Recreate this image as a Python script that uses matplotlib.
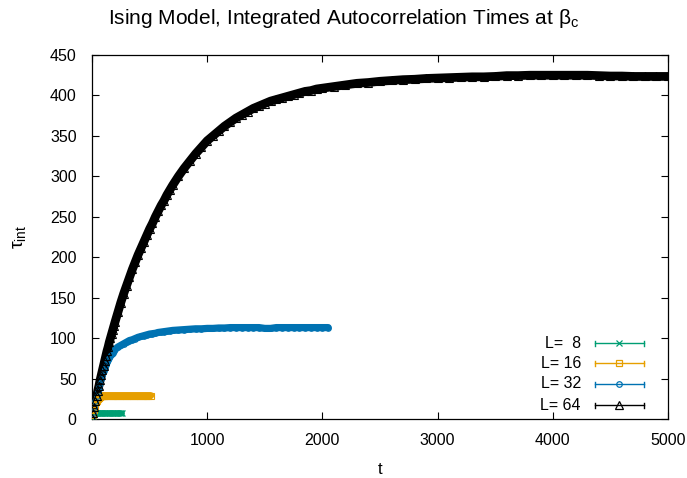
import numpy as np
import matplotlib
matplotlib.use("Agg")
import matplotlib.pyplot as plt
from matplotlib.lines import Line2D

plt.rcParams["font.family"] = ["Liberation Sans", "DejaVu Sans"]
plt.rcParams["mathtext.fontset"] = "custom"
plt.rcParams["mathtext.rm"] = "Liberation Sans"
plt.rcParams["mathtext.it"] = "Liberation Sans"

# ---- data: integrated autocorrelation time vs. cutoff t ----
t8 = np.concatenate([np.arange(0, 51, 5), np.arange(60, 261, 10)])
tau8 = [1, 4, 5.5, 6.5, 7, 7, 7, 7, 7, 7, 7,
        7, 7, 7, 7, 7, 7, 7, 7, 7, 7, 7, 7, 7, 7, 7, 7, 7, 7, 7, 7, 7]

t16 = np.concatenate([np.arange(0, 101, 5), np.arange(110, 511, 20)])
tau16 = [1, 4.5, 8, 11, 14, 16.5, 19, 21, 22.5, 24, 25, 26, 26.5, 27, 27.5,
         28, 28, 28.5, 28.5, 29, 29,
         29, 29, 29, 29, 29, 29, 29, 29, 29, 29, 29, 29, 29, 29, 29, 29,
         29, 29, 29, 29, 29]

t32 = np.concatenate([np.arange(0, 201, 10), np.arange(225, 701, 25),
                      np.arange(750, 2051, 50)])
tau32 = [1, 8, 15, 22, 28, 34, 40, 45, 50, 55, 59, 63, 67, 70, 73, 76, 78, 80,
         82, 84, 86,
         89, 91, 93, 95, 97, 98, 99.5, 101, 102, 103, 104, 105, 105.5, 106,
         107, 107.5, 108, 108.5, 109, 109.5,
         110, 110.5, 111, 111.5, 111.5, 112, 112, 112.5, 112.5, 113,
         113, 113, 113, 113, 113, 112, 112, 113, 113, 113,
         113, 113, 113, 113, 113, 113, 113]

t64 = np.concatenate([np.arange(0, 201, 10), np.arange(225, 701, 25),
                      np.arange(750, 2001, 50), np.arange(2100, 5001, 100)])
tau64 = [1, 8, 15, 22, 28, 35, 41, 48, 54, 60, 66, 72, 78, 84, 89, 95, 100,
         105, 110, 115, 120,
         132, 144, 155, 165, 175, 185, 194, 203, 211, 219, 227, 235, 242, 250,
         257, 264, 270, 277, 283, 289,
         300, 310, 319, 328, 336, 344, 350, 356, 362, 367, 372, 376, 380, 384,
         387, 390, 393, 395, 397, 399, 401, 403, 405, 406, 408, 409,
         411, 413, 415, 416, 417.5, 418.5, 419.5, 420, 421, 421.5,
         422, 422.5, 423, 423, 423.5, 424.5, 424.5, 425, 425, 425,
         425, 425, 425, 424.5, 424, 424, 423.5, 423.5, 423.5, 423.5]

labels = ["L=  8", "L= 16", "L= 32", "L= 64"]
colors = ["#009e73", "#e69f00", "#0072b2", "#000000"]

W, H = 687, 478
fig = plt.figure(figsize=(W / 100, H / 100), dpi=100)
ax = fig.add_axes([92 / W, 1 - 419 / H, (668 - 92) / W, (419 - 55) / H])

# (t, tau, marker, marker size, band width)
series = [
    (t8, tau8, "x", 4.5, 4.3),
    (t16, tau16, "s", 4.5, 5.0),
    (t32, tau32, "o", 4.0, 5.2),
    (t64, tau64, "^", 5.5, 6.3),
]
for (t, tau, mk, ms, lw), c in zip(series, colors):
    ax.plot(t, tau, color=c, lw=lw, solid_capstyle="round", zorder=2)
    ax.plot(t, tau, ls="none", marker=mk, ms=ms, mfc="none", mec=c,
            mew=0.8, zorder=3)

ax.set_xlim(0, 5000)
ax.set_ylim(0, 450)
ax.set_xticks(np.arange(0, 5001, 1000))
ax.set_yticks(np.arange(0, 451, 50))
ax.tick_params(direction="in", length=5, width=0.8, top=True, right=True,
               labelsize=11.5, colors="#000000")
ax.tick_params(axis="x", pad=10)
ax.tick_params(axis="y", pad=11)
for s in ax.spines.values():
    s.set_linewidth(0.9)

ax.set_xlabel("t", fontsize=12, labelpad=10)
ax.set_ylabel(r"$\tau_{\rm int}$", fontsize=14, labelpad=16)
fig.text(0.5, 1 - 18 / H,
         r"Ising Model, Integrated Autocorrelation Times at $\beta_{\rm c}$",
         ha="center", va="center", fontsize=15)

# key: label text, error-bar style sample and point marker
rows = [343, 363, 384, 405]
for lab, (t, tau, mk, ms, lw), c, y in zip(labels, series, colors, rows):
    fy = 1 - y / H
    fig.text(581 / W, fy, lab, ha="right", va="center", fontsize=11.5)
    fig.add_artist(Line2D([595 / W, 644 / W], [fy, fy], color=c, lw=1.0))
    for x in (595, 644):
        fig.add_artist(Line2D([x / W, x / W], [fy - 2.5 / H, fy + 2.5 / H],
                              color=c, lw=1.0))
    fig.add_artist(Line2D([619 / W], [fy], marker=mk, ms=ms, mfc="none",
                          mec=c, mew=0.9, ls="none"))

fig.savefig("out.png", dpi=100)
